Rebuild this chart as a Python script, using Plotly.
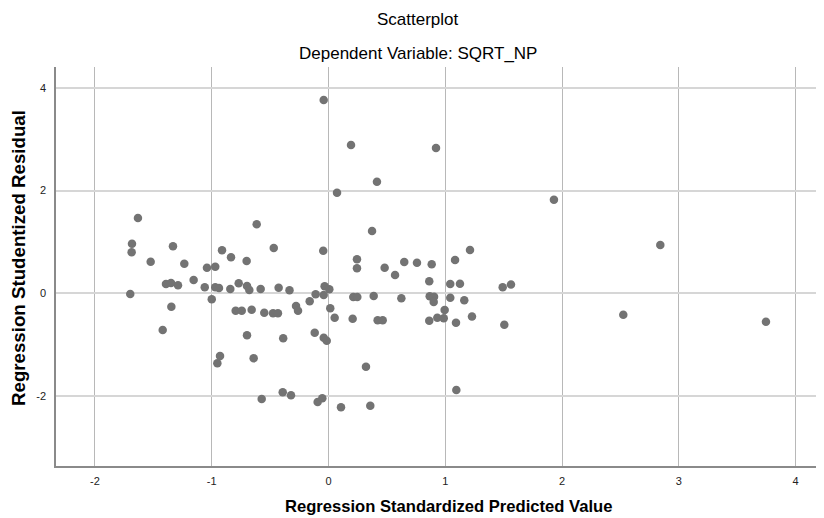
import plotly.graph_objects as go

# Regression Standardized Predicted Value
pred = [-1.632, -0.615, -1.683, -1.686, -1.332, -0.469, -1.523, -0.912, -0.835, -0.701,
        -1.235, -1.041, -0.970, -1.155, -1.392, -1.349, -1.289, -0.769, -1.060, -0.970,
        -0.938, -0.841, -0.698, -0.678, -0.581, -0.427, -0.334, -1.698, -1.000, -1.346,
        -0.795, -0.743, -0.658, -0.550, -0.475, -0.433, -1.420, -0.698, -0.388, -0.929,
        -0.952, -0.641, -0.572, 0.373, -0.045, 1.212, 0.244, 0.244, 1.084, 0.481,
        0.649, 0.758, 0.884, 0.570, 0.863, 1.043, 1.126, -0.033, 0.007, -0.110,
        -0.041, 0.212, 0.247, 0.387, 0.624, 0.867, 0.904, 0.901, 1.043, 1.163,
        -0.161, -0.278, -0.261, 0.015, 0.053, 0.207, 0.421, 0.464, 0.995, 0.863,
        0.932, 0.987, 1.092, 1.229, -0.118, -0.041, -0.015, 0.321, -0.392, -0.321,
        -0.093, -0.053, 0.107, 0.358, 1.095, 1.492, 1.563, 1.506, 1.931, 2.842,
        2.525, 3.747, -0.041, 0.193, 0.921, 0.415, 0.073]

# Regression Studentized Residual
resid = [1.466, 1.344, 0.966, 0.798, 0.915, 0.882, 0.615, 0.837, 0.701, 0.629,
         0.576, 0.499, 0.518, 0.259, 0.181, 0.201, 0.156, 0.195, 0.117, 0.117,
         0.103, 0.084, 0.142, 0.064, 0.084, 0.109, 0.058, -0.014, -0.117, -0.261,
         -0.339, -0.339, -0.319, -0.378, -0.389, -0.389, -0.715, -0.818, -0.876, -1.221,
         -1.363, -1.266, -2.058, 1.213, 0.830, 0.843, 0.662, 0.487, 0.648, 0.499,
         0.610, 0.596, 0.565, 0.356, 0.234, 0.181, 0.187, 0.136, 0.078, -0.019,
         -0.033, -0.072, -0.072, -0.053, -0.097, -0.058, -0.066, -0.169, -0.086, -0.136,
         -0.156, -0.247, -0.339, -0.292, -0.475, -0.495, -0.526, -0.526, -0.325, -0.534,
         -0.475, -0.487, -0.573, -0.452, -0.767, -0.865, -0.923, -1.429, -1.928, -1.986,
         -2.117, -2.045, -2.220, -2.189, -1.883, 0.117, 0.171, -0.611, 1.823, 0.941,
         -0.417, -0.553, 3.764, 2.888, 2.830, 2.173, 1.959]

x_ticks = [-2, -1, 0, 1, 2, 3, 4]
y_ticks = [-2, 0, 2, 4]

title_main = "Scatterplot"
title_sub = "Dependent Variable: SQRT_NP"
x_title = "Regression Standardized Predicted Value"
y_title = "Regression Studentized Residual"

FONT = "Liberation Sans, Arial, sans-serif"

fig = go.Figure(go.Scatter(
    x=pred, y=resid, mode="markers",
    marker=dict(size=8.5, color="#737373", line=dict(width=0)),
    hoverinfo="x+y", showlegend=False,
))

# the page body has an 8px default margin, so the figure is sized to fill the rest
fig.update_layout(
    width=816, height=510,
    margin=dict(l=48, r=2, t=59, b=52),
    paper_bgcolor="white", plot_bgcolor="white",
    font=dict(family=FONT, color="#000000"),
    xaxis=dict(
        range=[-2.334, 4.227], tickvals=x_ticks, ticktext=[str(v) for v in x_ticks],
        showgrid=True, gridcolor="#b8b8b8", gridwidth=1, zeroline=False,
        showline=True, linecolor="#8a8a8a", linewidth=1.5, ticks="",
        tickfont=dict(size=11, color="#222222"), ticklabelstandoff=4,
    ),
    yaxis=dict(
        range=[-3.363, 4.407], tickvals=y_ticks, ticktext=[str(v) for v in y_ticks],
        showgrid=True, gridcolor="#d6d6d6", gridwidth=2, zeroline=False,
        showline=True, linecolor="#8a8a8a", linewidth=1.5, ticks="",
        tickfont=dict(size=11, color="#222222"), ticklabelstandoff=6,
    ),
    annotations=[
        dict(text=title_main, xref="paper", yref="paper", x=0.4726, y=1.118,
             xanchor="center", yanchor="middle", showarrow=False,
             font=dict(size=17, family=FONT, color="#000000")),
        dict(text=title_sub, xref="paper", yref="paper", x=0.4726, y=1.035,
             xanchor="center", yanchor="middle", showarrow=False,
             font=dict(size=17, family=FONT, color="#000000")),
        dict(text="<b>" + x_title + "</b>", xref="paper", yref="paper",
             x=(448 - 56) / 766, y=(466 - 518) / 399,
             xanchor="center", yanchor="bottom", showarrow=False,
             font=dict(size=16.6, family=FONT, color="#000000")),
        dict(text="<b>" + y_title + "</b>", xref="paper", yref="paper",
             x=(18 - 56) / 766, y=(466 - 258) / 399, textangle=-90,
             xanchor="center", yanchor="middle", showarrow=False,
             font=dict(size=18.7, family=FONT, color="#000000")),
    ],
)

fig.write_html("out.html")
